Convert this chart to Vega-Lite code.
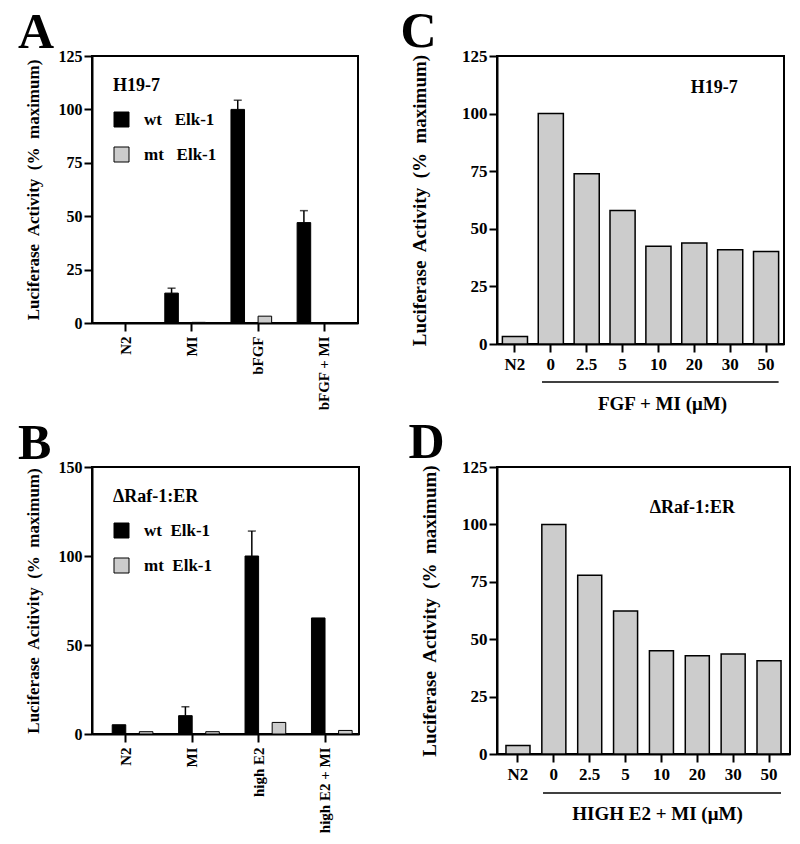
{
  "$schema": "https://vega.github.io/schema/vega-lite/v6.json",
  "padding": {"left": 16, "top": 6, "right": 5, "bottom": 2},
  "background": "white",
  "config": {
    "font": "Liberation Serif",
    "view": {"stroke": "black", "strokeWidth": 2},
    "axis": {"domainColor": "black", "domainWidth": 2, "tickColor": "black", "tickWidth": 2, "tickSize": 8, "labelColor": "black", "titleColor": "black", "labelFontWeight": "bold", "titleFontWeight": "bold", "grid": false, "labelFont": "Liberation Serif", "titleFont": "Liberation Serif"},
    "legend": {"labelFont": "Liberation Serif", "titleFont": "Liberation Serif", "labelFontWeight": "bold", "titleFontWeight": "bold", "labelColor": "black", "titleColor": "black"},
    "title": {"font": "Liberation Serif", "fontWeight": "bold", "color": "black"},
    "text": {"font": "Liberation Serif"}
  },
  "datasets": {
    "A": [
      {"treatment": "N2", "construct": "wt\u00a0\u00a0\u00a0Elk-1", "value": 0, "err": null},
      {"treatment": "N2", "construct": "mt\u00a0\u00a0\u00a0Elk-1", "value": 0, "err": null},
      {"treatment": "MI", "construct": "wt\u00a0\u00a0\u00a0Elk-1", "value": 14, "err": 16.3},
      {"treatment": "MI", "construct": "mt\u00a0\u00a0\u00a0Elk-1", "value": 0.3, "err": null},
      {"treatment": "bFGF", "construct": "wt\u00a0\u00a0\u00a0Elk-1", "value": 100, "err": 104.3},
      {"treatment": "bFGF", "construct": "mt\u00a0\u00a0\u00a0Elk-1", "value": 3.2, "err": null},
      {"treatment": "bFGF + MI", "construct": "wt\u00a0\u00a0\u00a0Elk-1", "value": 47, "err": 52.6},
      {"treatment": "bFGF + MI", "construct": "mt\u00a0\u00a0\u00a0Elk-1", "value": 0, "err": null}
    ],
    "B": [
      {"treatment": "N2", "construct": "wt\u00a0\u00a0Elk-1", "value": 5.2, "err": null},
      {"treatment": "N2", "construct": "mt\u00a0\u00a0Elk-1", "value": 1.3, "err": null},
      {"treatment": "MI", "construct": "wt\u00a0\u00a0Elk-1", "value": 10.3, "err": 15.3},
      {"treatment": "MI", "construct": "mt\u00a0\u00a0Elk-1", "value": 1.3, "err": null},
      {"treatment": "high E2", "construct": "wt\u00a0\u00a0Elk-1", "value": 100, "err": 114},
      {"treatment": "high E2", "construct": "mt\u00a0\u00a0Elk-1", "value": 6.5, "err": null},
      {"treatment": "high E2 + MI", "construct": "wt\u00a0\u00a0Elk-1", "value": 65.2, "err": null},
      {"treatment": "high E2 + MI", "construct": "mt\u00a0\u00a0Elk-1", "value": 2, "err": null}
    ],
    "C": [
      {"conc": "N2", "value": 3.3},
      {"conc": "0", "value": 100},
      {"conc": "2.5", "value": 73.9},
      {"conc": "5", "value": 57.9},
      {"conc": "10", "value": 42.4},
      {"conc": "20", "value": 43.8},
      {"conc": "30", "value": 40.9},
      {"conc": "50", "value": 40.2}
    ],
    "D": [
      {"conc": "N2", "value": 3.7},
      {"conc": "0", "value": 100},
      {"conc": "2.5", "value": 77.8},
      {"conc": "5", "value": 62.3},
      {"conc": "10", "value": 45},
      {"conc": "20", "value": 42.8},
      {"conc": "30", "value": 43.5},
      {"conc": "50", "value": 40.6}
    ]
  },
  "columns": 2,
  "bounds": "flush",
  "spacing": {"row": 123, "column": 138},
  "resolve": {"scale": {"color": "independent"}, "legend": {"color": "independent"}},
  "concat": [
    {
      "width": 266, "height": 267,
      "title": {"text": "A", "anchor": "start", "frame": "bounds", "fontSize": 50, "baseline": "alphabetic", "offset": -50, "dx": -6},
      "data": {"name": "A"},
      "encoding": {
        "x": {"field": "treatment", "type": "nominal", "sort": ["N2", "MI", "bFGF", "bFGF + MI"],
              "scale": {"paddingInner": 0.18, "paddingOuter": 0.1},
              "axis": {"title": null, "labelAngle": -90, "labelFontSize": 15, "labelPadding": 5}},
        "xOffset": {"field": "construct", "sort": ["wt\u00a0\u00a0\u00a0Elk-1", "mt\u00a0\u00a0\u00a0Elk-1"]}
      },
      "layer": [
        {
          "mark": {"type": "bar", "stroke": "black", "strokeWidth": 1},
          "encoding": {
            "y": {"field": "value", "type": "quantitative", "scale": {"domain": [0, 125], "nice": false},
                  "axis": {"values": [0, 25, 50, 75, 100, 125], "labelFontSize": 16, "titleFontSize": 17, "titlePadding": 16,
                           "title": "Luciferase\u00a0 Activity\u00a0 (%\u00a0 maximum)"}},
            "color": {"field": "construct", "type": "nominal", "sort": ["wt\u00a0\u00a0\u00a0Elk-1", "mt\u00a0\u00a0\u00a0Elk-1"],
                      "scale": {"range": ["black", "#cccccc"]},
                      "legend": {"orient": "top-left", "title": "H19-7", "titleFontSize": 18, "labelFontSize": 17, "symbolType": "square", "symbolSize": 225,
                                 "symbolStrokeColor": "black", "symbolStrokeWidth": 1, "rowPadding": 16, "titlePadding": 16, "labelOffset": 14, "offset": 18, "padding": 3}}
          }
        },
        {
          "transform": [{"filter": "datum.err != null"}],
          "mark": {"type": "rule", "color": "black", "strokeWidth": 1.5},
          "encoding": {"y": {"field": "value", "type": "quantitative"}, "y2": {"field": "err"}}
        },
        {
          "transform": [{"filter": "datum.err != null"}],
          "mark": {"type": "tick", "color": "black", "thickness": 1.5, "size": 8},
          "encoding": {"y": {"field": "err", "type": "quantitative"}}
        }
      ]
    },
    {
      "width": 287, "height": 288,
      "title": {"text": "C", "anchor": "start", "frame": "bounds", "fontSize": 50, "baseline": "alphabetic", "offset": -50, "dx": -10},
      "layer": [
        {
          "data": {"name": "C"},
          "mark": {"type": "bar", "fill": "#cccccc", "stroke": "black", "strokeWidth": 1.5},
          "encoding": {
            "x": {"field": "conc", "type": "nominal", "sort": ["N2", "0", "2.5", "5", "10", "20", "30", "50"],
                  "scale": {"paddingInner": 0.3, "paddingOuter": 0.15},
                  "axis": {"title": "FGF + MI (\u03bcM)", "labelAngle": 0, "labelFontSize": 17, "labelPadding": 4, "titleFontSize": 19, "titlePadding": 22, "titleX": 165}},
            "y": {"field": "value", "type": "quantitative", "scale": {"domain": [0, 125], "nice": false},
                  "axis": {"values": [0, 25, 50, 75, 100, 125], "labelFontSize": 17, "titleFontSize": 19, "titlePadding": 32,
                           "title": "Luciferase\u00a0 Activity\u00a0 (%\u00a0 maximum)"}}
          }
        },
        {
          "data": {"values": [{"label": "FGF + MI"}]},
          "mark": {"type": "rule", "color": "black", "strokeWidth": 1.5, "clip": false},
          "encoding": {"x": {"datum": "0", "bandPosition": 0.15}, "x2": {"datum": "50", "bandPosition": 1}, "y": {"datum": -16.5}}
        },
        {
          "data": {"values": [{"label": "H19-7"}]},
          "mark": {"type": "text", "fontSize": 18, "fontWeight": "bold", "color": "black", "dx": 20},
          "encoding": {"x": {"datum": "20"}, "y": {"datum": 111}, "text": {"field": "label"}}
        }
      ]
    },
    {
      "width": 267, "height": 267,
      "title": {"text": "B", "anchor": "start", "frame": "bounds", "fontSize": 50, "baseline": "alphabetic", "offset": -50, "dx": -6},
      "data": {"name": "B"},
      "encoding": {
        "x": {"field": "treatment", "type": "nominal", "sort": ["N2", "MI", "high E2", "high E2 + MI"],
              "scale": {"paddingInner": 0.18, "paddingOuter": 0.1},
              "axis": {"title": null, "labelAngle": -90, "labelFontSize": 15, "labelPadding": 5}},
        "xOffset": {"field": "construct", "sort": ["wt\u00a0\u00a0Elk-1", "mt\u00a0\u00a0Elk-1"]}
      },
      "layer": [
        {
          "mark": {"type": "bar", "stroke": "black", "strokeWidth": 1},
          "encoding": {
            "y": {"field": "value", "type": "quantitative", "scale": {"domain": [0, 150], "nice": false},
                  "axis": {"values": [0, 50, 100, 150], "labelFontSize": 16, "titleFontSize": 17, "titlePadding": 16,
                           "title": "Luciferase\u00a0 Acitivity\u00a0 (%\u00a0 maximum)"}},
            "color": {"field": "construct", "type": "nominal", "sort": ["wt\u00a0\u00a0Elk-1", "mt\u00a0\u00a0Elk-1"],
                      "scale": {"range": ["black", "#cccccc"]},
                      "legend": {"orient": "top-left", "title": "\u0394Raf-1:ER", "titleFontSize": 18, "labelFontSize": 17, "symbolType": "square", "symbolSize": 225,
                                 "symbolStrokeColor": "black", "symbolStrokeWidth": 1, "rowPadding": 16, "titlePadding": 16, "labelOffset": 14, "offset": 18, "padding": 3}}
          }
        },
        {
          "transform": [{"filter": "datum.err != null"}],
          "mark": {"type": "rule", "color": "black", "strokeWidth": 1.5},
          "encoding": {"y": {"field": "value", "type": "quantitative"}, "y2": {"field": "err"}}
        },
        {
          "transform": [{"filter": "datum.err != null"}],
          "mark": {"type": "tick", "color": "black", "thickness": 1.5, "size": 8},
          "encoding": {"y": {"field": "err", "type": "quantitative"}}
        }
      ]
    },
    {
      "width": 293, "height": 287,
      "title": {"text": "D", "anchor": "start", "frame": "bounds", "fontSize": 50, "baseline": "alphabetic", "offset": -50, "dx": -12},
      "layer": [
        {
          "data": {"name": "D"},
          "mark": {"type": "bar", "fill": "#cccccc", "stroke": "black", "strokeWidth": 1.5},
          "encoding": {
            "x": {"field": "conc", "type": "nominal", "sort": ["N2", "0", "2.5", "5", "10", "20", "30", "50"],
                  "scale": {"paddingInner": 0.33, "paddingOuter": 0.25},
                  "axis": {"title": "HIGH E2 + MI (\u03bcM)", "labelAngle": 0, "labelFontSize": 17, "labelPadding": 4, "titleFontSize": 19, "titlePadding": 22, "titleX": 160}},
            "y": {"field": "value", "type": "quantitative", "scale": {"domain": [0, 125], "nice": false},
                  "axis": {"values": [0, 25, 50, 75, 100, 125], "labelFontSize": 17, "titleFontSize": 19, "titlePadding": 22,
                           "title": "Luciferase\u00a0 Activity\u00a0 (%\u00a0 maximum)"}}
          }
        },
        {
          "data": {"values": [{"label": "HIGH E2 + MI"}]},
          "mark": {"type": "rule", "color": "black", "strokeWidth": 1.5, "clip": false},
          "encoding": {"x": {"datum": "0", "bandPosition": 0.05}, "x2": {"datum": "50", "bandPosition": 1}, "y": {"datum": -17}}
        },
        {
          "data": {"values": [{"label": "\u0394Raf-1:ER"}]},
          "mark": {"type": "text", "fontSize": 18, "fontWeight": "bold", "color": "black", "dx": -5},
          "encoding": {"x": {"datum": "20"}, "y": {"datum": 107}, "text": {"field": "label"}}
        }
      ]
    }
  ]
}
